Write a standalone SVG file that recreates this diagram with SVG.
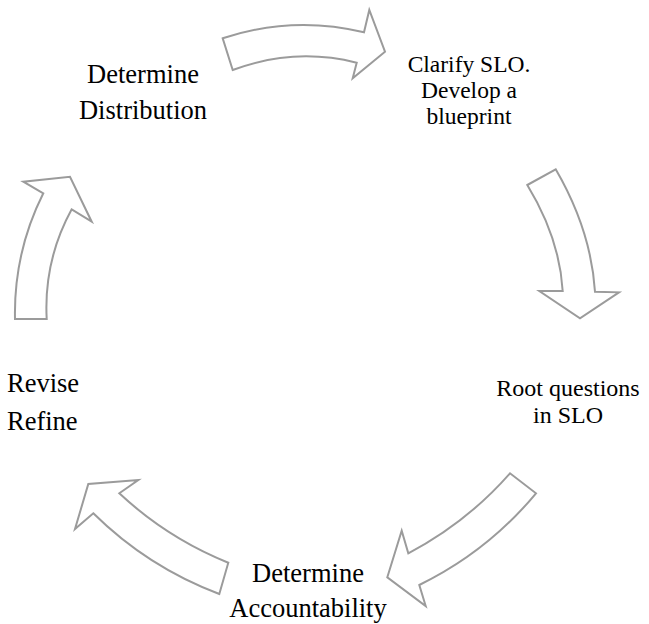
<svg xmlns="http://www.w3.org/2000/svg" width="649" height="624" viewBox="0 0 649 624">
<style>
.arr{fill:#ffffff;stroke:#9b9b9b;stroke-width:2;stroke-linejoin:miter}
.t{font-family:"Liberation Serif","Times New Roman",serif;font-size:26.5px;fill:#000000}
.s{font-size:23.5px}
.m{font-size:24px}
.c{text-anchor:middle}
</style>
<rect width="649" height="624" fill="#ffffff"/>
<g id="connectors">
<path class="arr" d="M222.7,38.3 Q293,15 364,32.3 L369.3,10 L385,51.7 L352.7,78.3 L356.7,62.7 Q294,47 232.7,70 Z"/>
<path class="arr" d="M527.3,185 L555.7,169.3 Q591,230 595,291.7 L619,292.3 L580,318.3 L539.3,291 L562.7,291 Q559.6,238 527.3,185 Z"/>
<path class="arr" d="M510,473.3 Q466.6,522.7 408.3,553.3 L401.7,530.7 L387.3,577.3 L425.7,606 L419.3,585 Q487.5,551.8 536,493.3 Z"/>
<path class="arr" d="M228.3,562.7 Q167.4,538.2 119.3,493.3 L138.3,480 L88.3,484 L75,529 L93.3,513.3 Q147.7,567.1 219.3,594 Z"/>
<path class="arr" d="M15,319 Q13.6,252.6 43.3,193.3 L23.3,181.7 L70,176.7 L91.7,221.7 L71.7,209.3 Q43.6,260.6 46.7,319 Z"/>
</g>
<g id="node-clarify">
<text class="t s c" x="469" y="71.5">Clarify SLO.</text>
<text class="t s c" x="469" y="97.5">Develop a</text>
<text class="t s c" x="469" y="123.5">blueprint</text>
</g>
<g id="node-root">
<text class="t m c" x="568" y="396">Root questions</text>
<text class="t m c" x="568" y="423">in SLO</text>
</g>
<g id="node-accountability">
<text class="t c" x="308" y="581.7">Determine</text>
<text class="t c" x="308" y="617">Accountability</text>
</g>
<g id="node-revise">
<text class="t" x="7" y="391.7">Revise</text>
<text class="t" x="7" y="430">Refine</text>
</g>
<g id="node-distribution">
<text class="t c" x="143" y="83.3">Determine</text>
<text class="t c" x="143" y="119.3">Distribution</text>
</g>
</svg>
